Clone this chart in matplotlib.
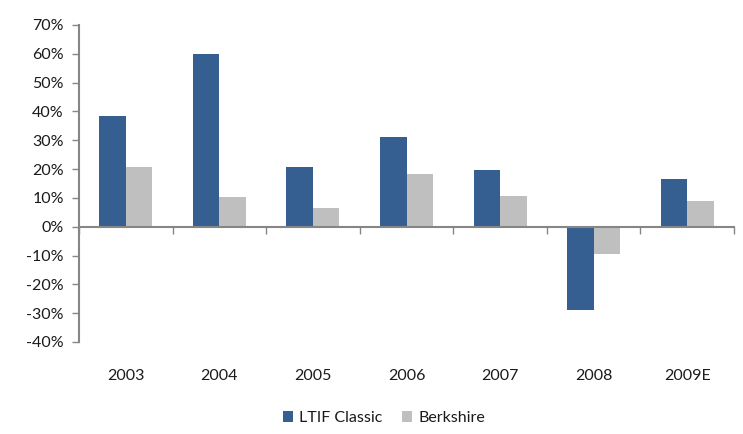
import numpy as np
import matplotlib
matplotlib.use("Agg")
import matplotlib.pyplot as plt
from matplotlib.ticker import FuncFormatter, FixedLocator
import matplotlib.transforms as mtransforms

years = ["2003", "2004", "2005", "2006", "2007", "2008", "2009E"]
ltif = [38.3, 59.8, 20.8, 31.2, 19.8, -29.0, 16.5]
berkshire = [20.7, 10.2, 6.5, 18.3, 10.8, -9.6, 8.9]

plt.rcParams['font.family'] = ['Lato', 'DejaVu Sans']
plt.rcParams['font.size'] = 11.5

blue = "#355F91"
gray = "#BFBFBF"
axis_col = "#868686"
txt_col = "#1a1a1a"

fig = plt.figure(figsize=(7.43, 4.34), dpi=100)
ax = fig.add_axes([0.1063, 0.212, 0.8817, 0.7304])

x = np.arange(len(years))
w = 0.283
ax.bar(x - w/2, ltif, w, color=blue, label="LTIF Classic", zorder=2)
ax.bar(x + w/2, berkshire, w, color=gray, label="Berkshire", zorder=2)

ax.set_xlim(-0.5, len(years) - 0.5)
ax.set_ylim(-40, 70)
ax.set_yticks(np.arange(-40, 71, 10))
ax.yaxis.set_major_formatter(FuncFormatter(lambda v, p: "%d%%" % v))

# spines
for s in ["top", "right"]:
    ax.spines[s].set_visible(False)
ax.spines["left"].set_color(axis_col)
ax.spines["left"].set_linewidth(1.5)
ax.spines["bottom"].set_position(("data", 0))
ax.spines["bottom"].set_color(axis_col)
ax.spines["bottom"].set_linewidth(1.5)
ax.spines["bottom"].set_zorder(3)

ax.tick_params(axis="y", length=5, width=1, color=axis_col, labelsize=11.5, pad=6, labelcolor=txt_col)
ax.xaxis.set_major_locator(FixedLocator(np.arange(-0.5, len(years), 1)))
ax.tick_params(axis="x", length=5, width=1, color=axis_col, labelbottom=False)

# category labels below plot
trans = mtransforms.blended_transform_factory(ax.transData, fig.transFigure)
for xi, yr in zip(x, years):
    ax.text(xi, 0.134, yr, transform=trans, ha="center", va="center",
            fontsize=11.5, color=txt_col)

fig.legend(loc="center", bbox_to_anchor=(0.517, 0.037), ncol=2, frameon=False,
           handlelength=0.65, handleheight=0.65, handletextpad=0.4, columnspacing=1.2,
           fontsize=11.5, labelcolor=txt_col)

fig.savefig("out.png", dpi=100)
